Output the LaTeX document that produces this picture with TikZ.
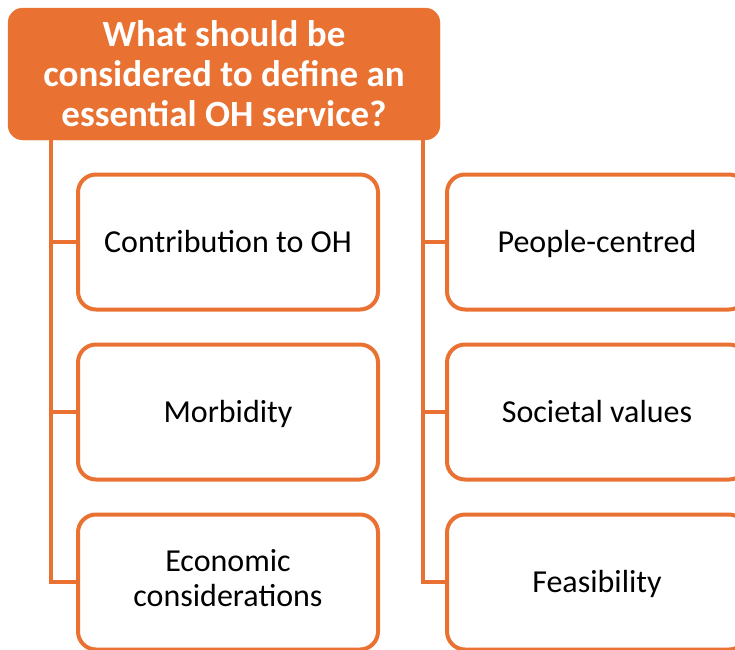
\documentclass[tikz,border=0pt]{standalone}
\usepackage{fontspec}
\setmainfont{Carlito}
\usetikzlibrary{positioning}
\definecolor{ohorange}{HTML}{E97132}
\tikzset{
  headbox/.style={shape=rectangle,rounded corners=15pt,fill=ohorange,draw=ohorange,text=white,
    minimum width=432pt,minimum height=132pt,align=center,
    font=\fontsize{37}{40}\selectfont\bfseries},
  itembox/.style={shape=rectangle,rounded corners=18pt,draw=ohorange,line width=4pt,fill=white,
    minimum width=300pt,minimum height=135pt,align=center,
    font=\fontsize{32}{35}\selectfont,
    execute at begin node=\rule[-8pt]{0pt}{37pt},
    execute at end node=\rule[-8pt]{0pt}{0pt}},
  spine/.style={draw=ohorange,line width=4pt}
}
\begin{document}
\begin{tikzpicture}[x=1pt,y=-1pt]
\useasboundingbox (0,0) rectangle (735,649);
\clip (0,0) rectangle (735,649);
\node[headbox](head) at (224,74) {What should be\\considered to define an\\essential OH service?};
\node[itembox](contrib) at (228,242) {Contribution to OH};
\node[itembox](morb) at (228,412) {Morbidity};
\node[itembox](econ) at (228,582) {Economic\\considerations};
\node[itembox](people) at (597,242) {People-centred};
\node[itembox](soc) at (597,412) {Societal values};
\node[itembox](feas) at (597,582) {Feasibility};
\coordinate(lspine) at (51,138);
\coordinate(rspine) at (423,138);
\path [spine]
(lspine) |- (econ.west)
(lspine |- contrib.west) -- (contrib.west)
(lspine |- morb.west) -- (morb.west)
(rspine) |- (feas.west)
(rspine |- people.west) -- (people.west)
(rspine |- soc.west) -- (soc.west);
\end{tikzpicture}
\end{document}
